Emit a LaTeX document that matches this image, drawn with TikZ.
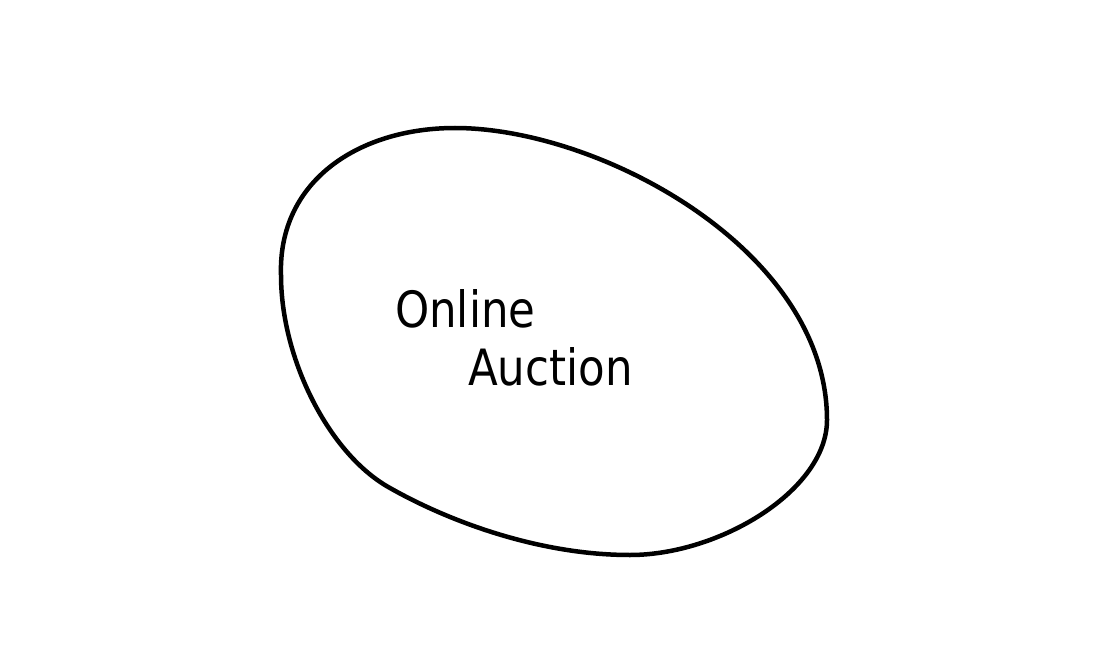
\documentclass[tikz,border=0pt]{standalone}
\usepackage{fontspec}
\setmainfont{DejaVu Sans}
\begin{document}
\begin{tikzpicture}[x=1pt,y=-1pt,
  blob/.style={line width=4.5pt, line join=round},
  hand/.style={font=\fontsize{50}{55}\selectfont, inner sep=0pt, anchor=base west, xscale=0.87}]
\useasboundingbox[fill=white] (0,0) rectangle (1100,671);
\coordinate (l) at (281,275);
\coordinate (t) at (455,128);
\coordinate (r) at (827,420);
\coordinate (b) at (630,555);
\coordinate (bl) at (390,488);
\draw[blob] (l) .. controls (278,180) and (360,128) .. (t)
  .. controls (600,128) and (827,250) .. (r)
  .. controls (827,490) and (720,555) .. (b)
  .. controls (540,555) and (450,522) .. (bl)
  .. controls (330,455) and (281,360) .. (l) -- cycle;
\node[hand] (online) at (395,327) {Online};
\node[hand] (auction) at (468,385) {Auction};
\end{tikzpicture}
\end{document}
